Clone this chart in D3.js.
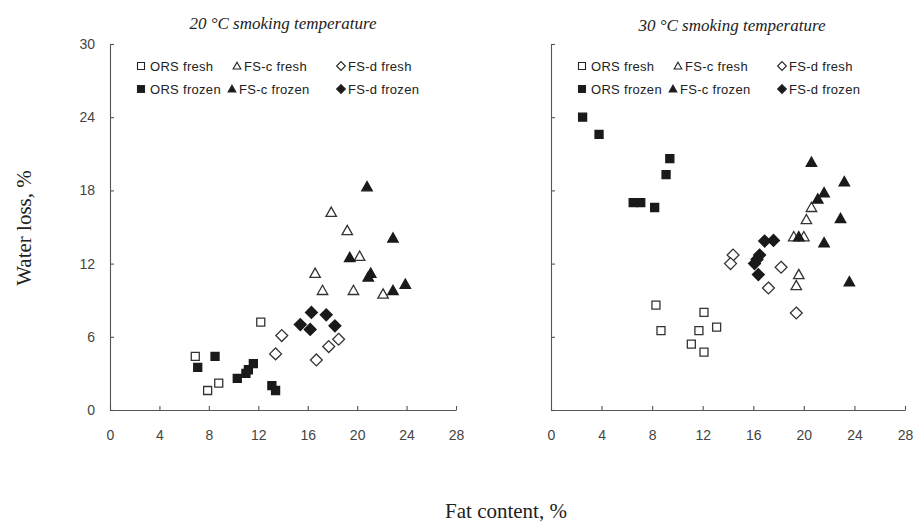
<!DOCTYPE html>
<html>
<head>
<meta charset="utf-8">
<script src="https://cdn.jsdelivr.net/npm/d3@7"></script>
<style>
  body { margin: 0; background: #fff; }
  svg { display: block; }
  .tick text { font-family: 'Liberation Sans', Arial, sans-serif; font-size: 14px; fill: #444; }
  .tick line, .domain { stroke: #555; stroke-width: 1.1; }
</style>
</head>
<body>
<div id="chart"></div>
<script>
// tick labels
const xTicks = [0, 4, 8, 12, 16, 20, 24, 28]
const yTicks = [0, 6, 12, 18, 24, 30]

// series names (legend order)
const seriesNames = ['ORS fresh', 'FS-c fresh', 'FS-d fresh', 'ORS frozen', 'FS-c frozen', 'FS-d frozen']

// 20 °C smoking temperature: [fat content, water loss]
const orsFresh20 = [[12.2, 7.2], [6.9, 4.4], [8.8, 2.2], [7.9, 1.6]]
const fscFresh20 = [[17.9, 16.2], [19.2, 14.7], [20.2, 12.6], [16.6, 11.2], [17.2, 9.8], [19.7, 9.8], [22.1, 9.5]]
const fsdFresh20 = [[13.9, 6.1], [13.4, 4.6], [18.5, 5.8], [17.7, 5.2], [16.7, 4.1]]
const orsFrozen20 = [[8.5, 4.4], [7.1, 3.5], [10.3, 2.6], [11.0, 3.0], [11.2, 3.3], [11.6, 3.8], [13.1, 2.0], [13.4, 1.6]]
const fscFrozen20 = [[20.8, 18.3], [22.9, 14.1], [19.4, 12.5], [21.1, 11.2], [20.9, 10.9], [22.9, 9.8], [23.9, 10.3]]
const fsdFrozen20 = [[16.3, 8.0], [17.5, 7.8], [15.4, 7.0], [16.2, 6.6], [18.2, 6.9]]

// 30 °C smoking temperature
const orsFresh30 = [[8.3, 8.6], [12.1, 8.0], [8.7, 6.5], [11.7, 6.5], [13.1, 6.8], [11.1, 5.4], [12.1, 4.75]]
const fscFresh30 = [[20.6, 16.6], [20.2, 15.6], [19.2, 14.2], [20.0, 14.2], [19.6, 11.1], [19.4, 10.2]]
const fsdFresh30 = [[14.4, 12.7], [14.2, 12.0], [18.2, 11.7], [17.2, 10.0], [19.4, 7.95]]
const orsFrozen30 = [[2.5, 24.0], [3.8, 22.6], [9.4, 20.6], [9.1, 19.3], [6.5, 17.0], [7.1, 17.0], [8.2, 16.6]]
const fscFrozen30 = [[20.6, 20.3], [23.2, 18.7], [21.6, 17.8], [21.1, 17.3], [22.9, 15.7], [19.6, 14.2], [21.6, 13.7], [23.6, 10.5]]
const fsdFrozen30 = [[16.9, 13.85], [17.6, 13.9], [16.5, 12.7], [16.3, 12.35], [16.1, 12.0], [16.4, 11.1]]

const width = 916
const height = 526
const plotTop = 44
const plotBottom = 410

const svg = d3.select('#chart').append('svg')
  .attr('width', width)
  .attr('height', height)

// marker path around 0,0
function marker (shape, s) {
  const h = s / 2
  if (shape === 'square') return `M${-h},${-h}H${h}V${h}H${-h}Z`
  if (shape === 'triangle') return `M0,${-h * 1.1}L${h * 1.1},${h * 0.85}L${-h * 1.1},${h * 0.85}Z`
  return `M0,${-h * 1.25}L${h * 1.25},0L0,${h * 1.25}L${-h * 1.25},0Z`
}

const styles = [
  { shape: 'square', filled: false },
  { shape: 'triangle', filled: false },
  { shape: 'diamond', filled: false },
  { shape: 'square', filled: true },
  { shape: 'triangle', filled: true },
  { shape: 'diamond', filled: true }
]

const panels = [
  {
    title: '20 °C smoking temperature',
    titleX: 283,
    titleY: 29,
    x0: 110,
    x1: 456,
    yLabels: true,
    legendX: 141,
    series: [orsFresh20, fscFresh20, fsdFresh20, orsFrozen20, fscFrozen20, fsdFrozen20]
  },
  {
    title: '30 °C smoking temperature',
    titleX: 732,
    titleY: 31,
    x0: 551,
    x1: 905,
    yLabels: false,
    legendX: 582,
    series: [orsFresh30, fscFresh30, fsdFresh30, orsFrozen30, fscFrozen30, fsdFrozen30]
  }
]

// legend offsets relative to the first marker
const legendCols = [0, 96, 200, 0, 91, 200]

panels.forEach(function (p) {
  const x = d3.scaleLinear().domain([0, 28]).range([p.x0, p.x1])
  const y = d3.scaleLinear().domain([0, 30]).range([plotBottom, plotTop])
  const g = svg.append('g')

  g.append('g')
    .attr('transform', `translate(0,${plotBottom})`)
    .call(d3.axisBottom(x).tickValues(xTicks).tickSize(-4).tickSizeOuter(0).tickPadding(20))

  const yAxis = d3.axisLeft(y).tickValues(yTicks).tickSize(-4).tickSizeOuter(-4).tickPadding(15)
  if (!p.yLabels) yAxis.tickFormat('')
  g.append('g')
    .attr('transform', `translate(${p.x0},0)`)
    .call(yAxis)

  g.append('text')
    .attr('x', p.titleX)
    .attr('y', p.titleY)
    .attr('text-anchor', 'middle')
    .style('font-family', "'Liberation Serif', 'Times New Roman', serif")
    .style('font-style', 'italic')
    .style('font-size', '17px')
    .style('fill', '#222')
    .text(p.title)

  p.series.forEach(function (data, i) {
    const st = styles[i]
    const size = st.shape === 'square' ? 8 : 9.5
    g.append('g').selectAll('path')
      .data(data)
      .enter().append('path')
      .attr('d', marker(st.shape, size))
      .attr('transform', function (d) {
        return `translate(${x(d[0])},${y(d[1])})`
      })
      .attr('fill', st.filled ? '#1a1a1a' : '#fff')
      .attr('stroke', st.filled ? '#1a1a1a' : '#333')
      .attr('stroke-width', 1.3)
  })

  // legend
  const leg = g.append('g')
  seriesNames.forEach(function (name, i) {
    const st = styles[i]
    const lx = p.legendX + legendCols[i]
    const ly = i < 3 ? 66 : 89
    leg.append('path')
      .attr('d', marker(st.shape, 7))
      .attr('transform', `translate(${lx},${ly})`)
      .attr('fill', st.filled ? '#1a1a1a' : '#fff')
      .attr('stroke', '#222')
      .attr('stroke-width', 1.1)
    leg.append('text')
      .attr('x', lx + (i === 0 || i === 3 ? 9 : 7))
      .attr('y', ly + 5)
      .style('font-family', "'Liberation Sans', Arial, sans-serif")
      .style('font-size', '13px')
      .style('letter-spacing', '0.3px')
      .style('fill', '#222')
      .text(name)
  })
})

svg.append('text')
  .attr('transform', 'translate(31,228) rotate(-90)')
  .attr('text-anchor', 'middle')
  .style('font-family', "'Liberation Serif', 'Times New Roman', serif")
  .style('font-size', '21px')
  .style('fill', '#222')
  .text('Water loss, %')

svg.append('text')
  .attr('x', 506)
  .attr('y', 518)
  .attr('text-anchor', 'middle')
  .style('font-family', "'Liberation Serif', 'Times New Roman', serif")
  .style('font-size', '21px')
  .style('fill', '#222')
  .text('Fat content, %')
</script>
</body>
</html>
